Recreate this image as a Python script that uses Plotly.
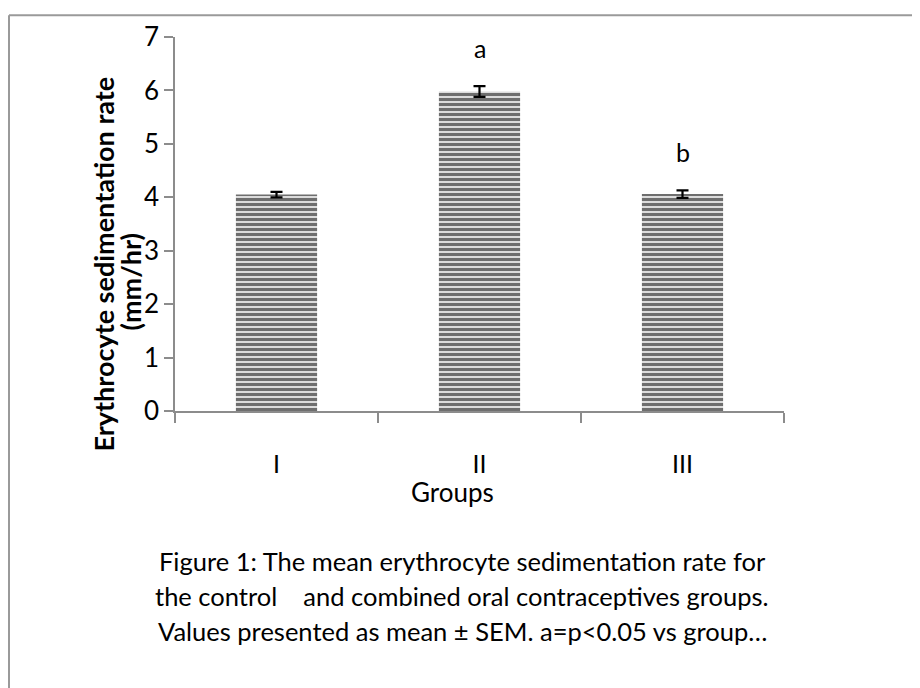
import plotly.graph_objects as go

groups = ["I", "II", "III"]
esr_mean = [4.05, 5.98, 4.06]
esr_sem = [0.05, 0.10, 0.07]
sig_labels = ["", "a", "b"]
y_ticks = [0, 1, 2, 3, 4, 5, 6, 7]
caption_lines = [
    "Figure 1: The mean erythrocyte sedimentation rate for",
    "the control \u00a0\u00a0 and combined oral contraceptives groups.",
    "Values presented as mean \u00b1 SEM. a=p<0.05 vs group\u2026",
]

W, H = 920, 688
OFF = 8  # page body margin
L, R, T, B = 175 - OFF, 784 - OFF, 33 - OFF, 411 - OFF
FONT = "Lato"


def px(x):
    return (x - OFF - L) / (R - L)


def py(y):
    return (B - (y - OFF)) / (B - T)


fig = go.Figure()
fig.add_trace(go.Bar(
    x=groups, y=esr_mean, width=0.4,
    marker=dict(color="white", line=dict(width=0),
                pattern=dict(shape="-", fgcolor="black", bgcolor="#dcdcdc",
                             size=5, solidity=0.6)),
    error_y=dict(type="data", array=esr_sem, color="black", thickness=2.2, width=6),
    showlegend=False,
))

annotations = []
for g, v, e, s in zip(groups, esr_mean, esr_sem, sig_labels):
    if s:
        annotations.append(dict(x=g, y=v + e, xref="x", yref="y", text=s,
                                showarrow=False, yshift=38,
                                font=dict(family=FONT, size=25, color="black")))

annotations.append(dict(x=px(104), y=py(263), xref="paper", yref="paper",
                        text="<b>Erythrocyte sedimentation rate</b>", textangle=-90,
                        showarrow=False, xanchor="center", yanchor="middle",
                        font=dict(family=FONT, size=27, color="black")))
annotations.append(dict(x=px(130), y=py(281), xref="paper", yref="paper",
                        text="<b>(mm/hr)</b>", textangle=-90,
                        showarrow=False, xanchor="center", yanchor="middle",
                        font=dict(family=FONT, size=27, color="black")))
annotations.append(dict(x=px(452), y=py(493), xref="paper", yref="paper",
                        text="Groups", showarrow=False,
                        xanchor="center", yanchor="middle",
                        font=dict(family=FONT, size=26, color="black")))
for i, line in enumerate(caption_lines):
    annotations.append(dict(x=px(462), y=py(563 + 35 * i), xref="paper", yref="paper",
                            text=line, showarrow=False,
                            xanchor="center", yanchor="middle",
                            font=dict(family=FONT, size=25.5, color="black")))

shapes = [
    dict(type="line", xref="paper", yref="paper", x0=px(9), x1=px(935),
         y0=py(11), y1=py(11), line=dict(color="#9a9a9a", width=2)),
    dict(type="line", xref="paper", yref="paper", x0=px(9), x1=px(9),
         y0=py(11), y1=py(710), line=dict(color="#9a9a9a", width=2)),
]

fig.update_layout(
    width=W, height=H,
    margin=dict(l=L, r=W - R, t=T, b=H - B),
    paper_bgcolor="white", plot_bgcolor="white",
    font=dict(family=FONT, color="black"),
    xaxis=dict(type="category", range=[-0.5, 2.5], tickson="boundaries",
               ticks="outside", ticklen=10, tickcolor="#8c8c8c", tickwidth=1.5,
               showline=True, linecolor="#8c8c8c", linewidth=1.5,
               showgrid=False, zeroline=False,
               tickfont=dict(family=FONT, size=25, color="black"),
               ticklabelstandoff=30),
    yaxis=dict(range=[0, 7], tickvals=y_ticks, ticks="outside", ticklen=9,
               tickcolor="#8c8c8c", tickwidth=1.5,
               showline=True, linecolor="#8c8c8c", linewidth=1.5,
               showgrid=False, zeroline=False,
               tickfont=dict(family=FONT, size=26, color="black"),
               ticklabelstandoff=0),
    annotations=annotations,
    shapes=shapes,
)

fig.write_html("out.html")
